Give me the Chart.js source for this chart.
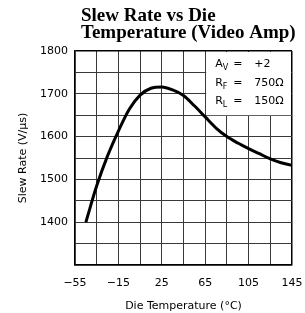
<!DOCTYPE html>
<html>
<head>
<meta charset="utf-8">
<script src="https://cdn.jsdelivr.net/npm/chart.js@4.4.0/dist/chart.umd.min.js"></script>
<style>
html, body { margin: 0; padding: 0; background: #fff; }
</style>
</head>
<body>
<canvas id="chart" width="305" height="313"></canvas>
<script>
var temps = [-45, -35, -25, -15, -5, 5, 15, 25, 35, 45, 55, 65, 75, 85, 95, 105, 115, 125, 135, 145];
var slew = [1400, 1485, 1555, 1613, 1664, 1697, 1713, 1716, 1709, 1696, 1672, 1646, 1620, 1600, 1585, 1572, 1560, 1548, 1539, 1533];
var xGrid = [-55, -35, -15, 5, 25, 45, 65, 85, 105, 125, 145];
var xLabels = [-55, -15, 25, 65, 105, 145];
var yLabels = [1400, 1500, 1600, 1700, 1800];
var titleLines = ['Slew Rate vs Die', 'Temperature (Video Amp)'];
var condNames = [['A', 'V'], ['R', 'F'], ['R', 'L']];
var condValues = ['+2', '750\u03A9', '150\u03A9'];

var axisFont = { family: 'DejaVu Sans', size: 11 };

// title drawn by hand so it can start a bit right of the plot edge
var titlePlugin = {
    id: 'titleBlock',
    afterDraw: function(chart){
        var ctx = chart.ctx;
        ctx.save();
        ctx.fillStyle = '#000';
        ctx.font = 'bold 19px "Liberation Serif"';
        ctx.textBaseline = 'alphabetic';
        ctx.fillText(titleLines[0], chart.chartArea.left + 6, 21);
        ctx.fillText(titleLines[1], chart.chartArea.left + 6, 37.5);
        ctx.restore();
    }
};

// conditions box in the top right corner of the plot
var condPlugin = {
    id: 'condBox',
    beforeDatasetsDraw: function(chart){
        var ctx = chart.ctx;
        var xs = chart.scales.x, ys = chart.scales.y;
        var l = xs.getPixelForValue(65) + 1;
        var r = xs.getPixelForValue(145) - 1;
        var t = ys.getPixelForValue(1800) + 1;
        var b = ys.getPixelForValue(1650);
        ctx.save();
        ctx.fillStyle = '#fff';
        ctx.fillRect(l, t, r - l, b - t);
        ctx.fillStyle = '#000';
        var base = [t + 15, t + 34, t + 52];
        for (var i = 0; i < condNames.length; i++) {
            ctx.font = '11px "DejaVu Sans"';
            ctx.fillText(condNames[i][0], l + 9, base[i]);
            var w = ctx.measureText(condNames[i][0]).width;
            ctx.font = '8px "DejaVu Sans"';
            ctx.fillText(condNames[i][1], l + 9 + w, base[i] + 3);
            ctx.font = '11px "DejaVu Sans"';
            ctx.fillText('=', l + 27, base[i]);
            ctx.fillText(condValues[i], l + 48, base[i]);
        }
        ctx.restore();
    }
};

function gridColor(ends){
    return function(c){
        return (c.tick && ends.indexOf(c.tick.value) >= 0) ? '#000' : '#3a3a3a';
    };
}
function gridWidth(ends){
    return function(c){
        return (c.tick && ends.indexOf(c.tick.value) >= 0) ? 1.5 : 1;
    };
}

var ctx = document.getElementById('chart').getContext('2d');
new Chart(ctx, {
    type: 'line',
    data: {
        datasets: [{
            data: temps.map(function(t, i){ return { x: t, y: slew[i] }; }),
            borderColor: '#000',
            borderWidth: 3,
            pointRadius: 0,
            fill: false,
            cubicInterpolationMode: 'monotone'
        }]
    },
    options: {
        responsive: false,
        animation: false,
        devicePixelRatio: 1,
        layout: { padding: { left: 10, right: 13, top: 51, bottom: 0 } },
        plugins: {
            legend: { display: false },
            tooltip: { enabled: false }
        },
        scales: {
            x: {
                type: 'linear',
                min: -55,
                max: 145,
                afterBuildTicks: function(scale){
                    scale.ticks = xGrid.map(function(v){ return { value: v }; });
                },
                afterFit: function(scale){
                    scale.height = 48;
                    // labels at the ends may hang over, don't shrink the plot for them
                    scale.paddingLeft = 0;
                    scale.paddingRight = 0;
                },
                grid: { color: gridColor([-55, 145]), lineWidth: gridWidth([-55, 145]), drawTicks: false },
                border: { color: '#000', width: 1.5 },
                ticks: {
                    color: '#000',
                    font: axisFont,
                    padding: 12,
                    maxRotation: 0,
                    autoSkip: false,
                    callback: function(v){
                        if (xLabels.indexOf(v) < 0) return '';
                        return v < 0 ? '\u2212' + Math.abs(v) : String(v);
                    }
                },
                title: {
                    display: true,
                    text: 'Die Temperature (\u00B0C)',
                    color: '#000',
                    font: axisFont,
                    padding: { top: 0, bottom: 0 }
                }
            },
            y: {
                min: 1300,
                max: 1800,
                afterFit: function(scale){
                    scale.width = 65;
                    scale.paddingTop = 0;
                    scale.paddingBottom = 0;
                },
                grid: { color: gridColor([1300, 1800]), lineWidth: gridWidth([1300, 1800]), drawTicks: false },
                border: { color: '#000', width: 1.5 },
                ticks: {
                    stepSize: 50,
                    color: '#000',
                    font: axisFont,
                    padding: 7,
                    autoSkip: false,
                    callback: function(v){
                        return yLabels.indexOf(v) >= 0 ? String(v) : '';
                    }
                },
                title: {
                    display: true,
                    text: 'Slew Rate (V/\u03BCs)',
                    color: '#000',
                    font: axisFont,
                    padding: { top: 7, bottom: 0 }
                }
            }
        }
    },
    plugins: [titlePlugin, condPlugin]
});
</script>
</body>
</html>
